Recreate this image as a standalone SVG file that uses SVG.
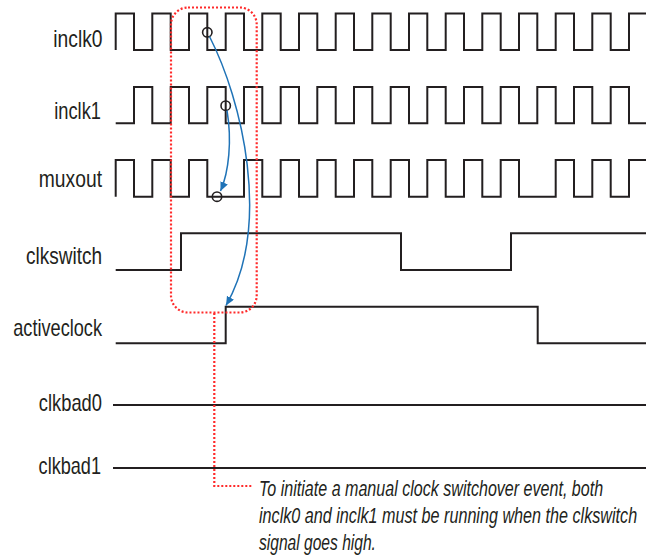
<svg xmlns="http://www.w3.org/2000/svg" width="647" height="560" viewBox="0 0 647 560">
<style>
.lbl{font-family:"Liberation Sans Narrow","Liberation Sans","DejaVu Sans Condensed",sans-serif;font-size:23px;fill:#231f20;text-anchor:end}
.wave{fill:none;stroke:#231f20;stroke-width:2;stroke-linejoin:miter}
.ring{fill:none;stroke:#231f20;stroke-width:1.6}
.conn{fill:none;stroke:#1f73b7;stroke-width:1.5}
.red{fill:none;stroke:#ff2a2a;stroke-width:2.2;stroke-dasharray:2 2}
.note{font-family:"Liberation Sans Narrow","Liberation Sans",sans-serif;font-size:22px;font-style:italic;fill:#231f20}
</style>
<defs>
<marker id="ah" markerWidth="10" markerHeight="10" refX="9" refY="4" orient="auto" markerUnits="userSpaceOnUse"><path d="M0,0 L9,4 L0,8 z" fill="#1f73b7"/></marker>
</defs>
<rect width="647" height="560" fill="#fff"/>
<g id="inclk0">
<text class="lbl" transform="translate(102.5,47) scale(0.8,1)" textLength="61.5" lengthAdjust="spacingAndGlyphs">inclk0</text>
<path class="wave" d="M115.7,50 V13.5 H134 V50 H152.3 V13.5 H170.7 V50 H189 V13.5 H207.3 V50 H225.7 V13.5 H244 V50 H262.3 V13.5 H280.7 V50 H299 V13.5 H317.3 V50 H335.7 V13.5 H354 V50 H372.3 V13.5 H390.7 V50 H409 V13.5 H427.3 V50 H445.7 V13.5 H464 V50 H482.3 V13.5 H500.7 V50 H519 V13.5 H537.3 V50 H555.7 V13.5 H574 V50 H592.3 V13.5 H610.7 V50 H629 V13.5 H646"/>
</g>
<g id="inclk1">
<text class="lbl" transform="translate(101,119) scale(0.8,1)" textLength="58.5" lengthAdjust="spacingAndGlyphs">inclk1</text>
<path class="wave" d="M115.7,123.3 H134 V87 H152.3 V123.3 H170.7 V87 H189 V123.3 H207.3 V87 H225.7 V123.3 H244 V87 H262.3 V123.3 H280.7 V87 H299 V123.3 H317.3 V87 H335.7 V123.3 H354 V87 H372.3 V123.3 H390.7 V87 H409 V123.3 H427.3 V87 H445.7 V123.3 H464 V87 H482.3 V123.3 H500.7 V87 H519 V123.3 H537.3 V87 H555.7 V123.3 H574 V87 H592.3 V123.3 H610.7 V87 H629 V123.3 H646"/>
</g>
<g id="muxout">
<text class="lbl" transform="translate(102,187) scale(0.8,1)" textLength="79" lengthAdjust="spacingAndGlyphs">muxout</text>
<path class="wave" d="M115.7,196.7 V160 H134 V196.7 H152.3 V160 H170.7 V196.7 H189 V160 H207.3 V196.7 H244 V160 H262.3 V196.7 H280.7 V160 H299 V196.7 H317.3 V160 H335.7 V196.7 H354 V160 H372.3 V196.7 H390.7 V160 H409 V196.7 H427.3 V160 H445.7 V196.7 H464 V160 H482.3 V196.7 H500.7 V160 H519 V196.7 H555.7 V160 H574 V196.7 H592.3 V160 H610.7 V196.7 H629 V160 H646"/>
</g>
<g id="clkswitch">
<text class="lbl" transform="translate(102,264) scale(0.8,1)" textLength="95" lengthAdjust="spacingAndGlyphs">clkswitch</text>
<path class="wave" d="M115.7,270 H181 V233.3 H401 V270 H511 V233.3 H646"/>
</g>
<g id="activeclock">
<text class="lbl" transform="translate(102,336) scale(0.8,1)" textLength="111" lengthAdjust="spacingAndGlyphs">activeclock</text>
<path class="wave" d="M115.7,343.3 H225.7 V306.7 H537.7 V343.3 H646"/>
</g>
<g id="clkbad0">
<text class="lbl" transform="translate(102,411) scale(0.8,1)" textLength="79" lengthAdjust="spacingAndGlyphs">clkbad0</text>
<path class="wave" d="M113,405 H646"/>
</g>
<g id="clkbad1">
<text class="lbl" transform="translate(101,474) scale(0.8,1)" textLength="78" lengthAdjust="spacingAndGlyphs">clkbad1</text>
<path class="wave" d="M113,468 H646"/>
</g>
<g id="markers">
<circle class="ring" cx="207.3" cy="32.3" r="4.7"/>
<circle class="ring" cx="225.7" cy="105.7" r="4.7"/>
<circle class="ring" cx="217" cy="196.7" r="4.7"/>
</g>
<g id="connectors">
<path class="conn" d="M209.5,36.5 C242,100 272,225 226,305.5" marker-end="url(#ah)"/>
<path class="conn" d="M227,110.5 C232,140 229,172 220.5,191" marker-end="url(#ah)"/>
</g>
<g id="annotation">
<rect class="red" x="171" y="7.5" width="85.7" height="305" rx="17" ry="17"/>
<path class="red" d="M214.3,313 V486 H252"/>
<text class="note" transform="translate(259,496) scale(0.74,1)" textLength="465" lengthAdjust="spacingAndGlyphs">To initiate a manual clock switchover event, both</text>
<text class="note" transform="translate(259,523) scale(0.74,1)" textLength="511" lengthAdjust="spacingAndGlyphs">inclk0 and inclk1 must be running when the clkswitch</text>
<text class="note" transform="translate(259,550) scale(0.74,1)" textLength="158" lengthAdjust="spacingAndGlyphs">signal goes high.</text>
</g>
</svg>
